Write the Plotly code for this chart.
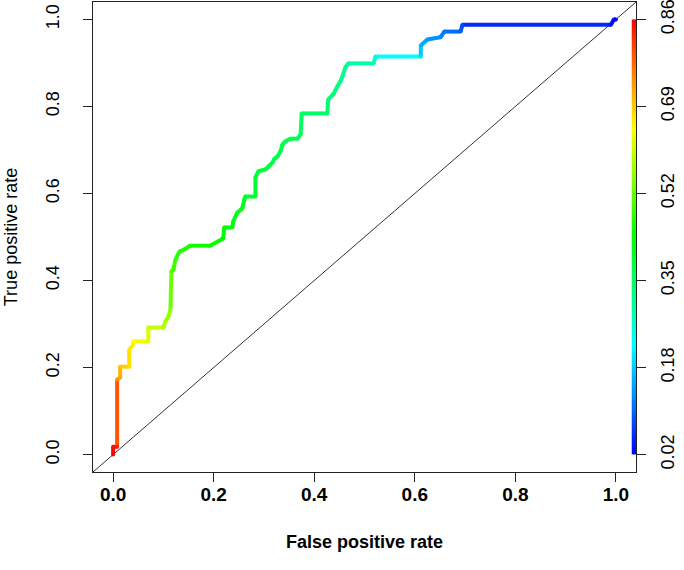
import colorsys
import plotly.graph_objects as go

# ROC curve points (false positive rate, true positive rate, cutoff)
fpr = [0.0, 0.0, 0.008, 0.008, 0.014, 0.014, 0.032, 0.032, 0.040, 0.040,
       0.070, 0.070, 0.100, 0.104, 0.110, 0.114, 0.116, 0.120, 0.124, 0.129,
       0.133, 0.141, 0.153, 0.193, 0.209, 0.219, 0.221, 0.237, 0.239, 0.247,
       0.257, 0.261, 0.263, 0.283, 0.283, 0.289, 0.303, 0.309, 0.317, 0.321,
       0.327, 0.333, 0.337, 0.343, 0.353, 0.367, 0.373, 0.375, 0.426, 0.428,
       0.438, 0.446, 0.452, 0.456, 0.462, 0.468, 0.518, 0.522, 0.612, 0.612,
       0.625, 0.651, 0.659, 0.691, 0.695, 0.990, 0.996, 1.0]
tpr = [0.0, 0.018, 0.018, 0.172, 0.177, 0.202, 0.202, 0.241, 0.253, 0.260,
       0.260, 0.292, 0.292, 0.306, 0.317, 0.333, 0.421, 0.425, 0.448, 0.460,
       0.467, 0.471, 0.480, 0.480, 0.490, 0.497, 0.522, 0.522, 0.536, 0.556,
       0.566, 0.586, 0.593, 0.593, 0.637, 0.651, 0.655, 0.662, 0.671, 0.680,
       0.685, 0.697, 0.713, 0.720, 0.726, 0.726, 0.736, 0.784, 0.784, 0.816,
       0.828, 0.846, 0.857, 0.869, 0.890, 0.899, 0.899, 0.915, 0.915, 0.940,
       0.954, 0.959, 0.972, 0.972, 0.988, 0.988, 1.0, 1.0]
cutoff = [0.86, 0.85, 0.84, 0.74, 0.72, 0.70, 0.68, 0.67, 0.66, 0.65,
          0.63, 0.61, 0.59, 0.58, 0.57, 0.56, 0.50, 0.49, 0.48, 0.475,
          0.47, 0.465, 0.46, 0.45, 0.445, 0.44, 0.435, 0.43, 0.425, 0.42,
          0.418, 0.415, 0.41, 0.405, 0.40, 0.395, 0.39, 0.388, 0.385, 0.382,
          0.38, 0.378, 0.375, 0.372, 0.37, 0.368, 0.365, 0.36, 0.35, 0.345,
          0.34, 0.335, 0.33, 0.325, 0.32, 0.31, 0.29, 0.27, 0.20, 0.17,
          0.15, 0.13, 0.12, 0.10, 0.08, 0.03, 0.025, 0.02]

cut_min, cut_max = 0.02, 0.86
key_ticks = [0.0, 0.2, 0.4, 0.6, 0.8, 1.0]
key_labels = ["0.02", "0.18", "0.35", "0.52", "0.69", "0.86"]
axis_ticks = [0.0, 0.2, 0.4, 0.6, 0.8, 1.0]
axis_labels = ["0.0", "0.2", "0.4", "0.6", "0.8", "1.0"]
diag = [-0.04, 1.04]


def cut_color(c):
    t = (c - cut_min) / (cut_max - cut_min)
    t = min(max(t, 0.0), 1.0)
    h = (1.0 - t) * (240.0 / 360.0)
    r, g, b = colorsys.hsv_to_rgb(h, 1.0, 1.0)
    return "rgb(%d,%d,%d)" % (round(r * 255), round(g * 255), round(b * 255))


n_pal = 64
rainbow_scale = [[i / (n_pal - 1), cut_color(cut_min + (cut_max - cut_min) * i / (n_pal - 1))]
                 for i in range(n_pal)]

fig = go.Figure()

# diagonal reference line
fig.add_trace(go.Scatter(x=diag, y=diag, mode="lines",
                         line=dict(color="#333333", width=1),
                         hoverinfo="skip", showlegend=False, cliponaxis=True))

# coloured ROC segments
for i in range(len(fpr) - 1):
    c = 0.5 * (cutoff[i] + cutoff[i + 1])
    fig.add_trace(go.Scatter(x=[fpr[i], fpr[i + 1]], y=[tpr[i], tpr[i + 1]],
                             mode="lines", line=dict(color=cut_color(c), width=4),
                             hoverinfo="skip", showlegend=False))
# joints
fig.add_trace(go.Scatter(x=fpr, y=tpr, mode="markers",
                         marker=dict(size=4, color=[cut_color(c) for c in cutoff], line=dict(width=0)),
                         hoverinfo="skip", showlegend=False))

# colour key bar
n_key = 200
key_z = [[cut_min + (cut_max - cut_min) * (k + 0.5) / n_key] for k in range(n_key)]
fig.add_trace(go.Heatmap(z=key_z, x0=1.036, dx=0.009, y0=0.5 / n_key, dy=1.0 / n_key,
                         colorscale=rainbow_scale, zmin=cut_min, zmax=cut_max,
                         showscale=False, hoverinfo="skip", zsmooth=False,
                         xaxis="x", yaxis="y2"))

font_main = "Liberation Sans, Arial, sans-serif"

fig.update_layout(
    width=684, height=570,
    margin=dict(l=93, r=48, t=2, b=98),
    paper_bgcolor="white", plot_bgcolor="white",
    font=dict(family=font_main, color="black", size=18),
    xaxis=dict(range=[-0.04, 1.04], tickvals=axis_ticks, ticktext=axis_labels,
               showgrid=False, zeroline=False, showline=True, linecolor="#222222",
               linewidth=1, mirror=True, ticks="outside", ticklen=9, tickcolor="#222222",
               tickfont=dict(size=19, family=font_main, weight="bold"), ticklabelstandoff=-4,
               title=dict(text="<b>False positive rate</b>", font=dict(size=18), standoff=31),
               automargin=False),
    yaxis=dict(range=[-0.04, 1.04], tickvals=axis_ticks, ticktext=axis_labels,
               showgrid=False, zeroline=False, showline=True, linecolor="#222222",
               linewidth=1, mirror=True, ticks="outside", ticklen=9, tickcolor="#222222",
               tickangle=-90, tickfont=dict(size=18), ticklabelstandoff=17,
               ticklabeloverflow="allow",
               title=dict(text="True positive rate", font=dict(size=18), standoff=20),
               automargin=False),
    yaxis2=dict(range=[-0.04, 1.04], overlaying="y", side="right",
                tickvals=key_ticks, ticktext=key_labels,
                showgrid=False, zeroline=False, showline=False,
                ticks="outside", ticklen=9, tickcolor="#222222",
                tickangle=-90, tickfont=dict(size=18), ticklabelstandoff=6,
                ticklabeloverflow="allow",
                automargin=False),
)

fig.write_html("out.html", config={"displayModeBar": False},
               post_script="document.body.style.margin='0px';")
